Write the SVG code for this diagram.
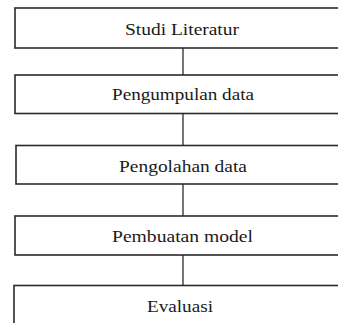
<svg xmlns="http://www.w3.org/2000/svg" width="338" height="323" viewBox="0 0 338 323">
<style>
.box{fill:#fff;stroke:#2a2a2a;stroke-width:1.6}
.lbl{font-family:'Liberation Serif','DejaVu Serif',serif;font-size:16.5px;fill:#1a1a1a;text-anchor:middle}
.con{stroke:#3a3a3a;stroke-width:1.4;fill:none}
</style>
<rect width="338" height="323" fill="#fff"/>
<g id="connectors">
<line class="con" x1="183" y1="48" x2="183" y2="75"/>
<line class="con" x1="183" y1="113.5" x2="183" y2="145.5"/>
<line class="con" x1="183" y1="184" x2="183" y2="216"/>
<line class="con" x1="183" y1="255" x2="183" y2="285.5"/>
</g>
<g id="n1"><rect class="box" x="15" y="8" width="340" height="40"/><text class="lbl" font-family="Liberation Serif, serif" x="182" y="34.5" textLength="114" lengthAdjust="spacingAndGlyphs">Studi Literatur</text></g>
<g id="n2"><rect class="box" x="15" y="75" width="340" height="38.5"/><text class="lbl" font-family="Liberation Serif, serif" x="183" y="99.5" textLength="142" lengthAdjust="spacingAndGlyphs">Pengumpulan data</text></g>
<g id="n3"><rect class="box" x="16" y="145.5" width="340" height="38.5"/><text class="lbl" font-family="Liberation Serif, serif" x="183" y="171.5" textLength="128" lengthAdjust="spacingAndGlyphs">Pengolahan data</text></g>
<g id="n4"><rect class="box" x="15" y="216" width="340" height="39"/><text class="lbl" font-family="Liberation Serif, serif" x="182.5" y="241.5" textLength="141" lengthAdjust="spacingAndGlyphs">Pembuatan model</text></g>
<g id="n5"><rect class="box" x="14" y="285.5" width="340" height="50"/><text class="lbl" font-family="Liberation Serif, serif" x="180" y="311.5" textLength="66" lengthAdjust="spacingAndGlyphs">Evaluasi</text></g>
</svg>
